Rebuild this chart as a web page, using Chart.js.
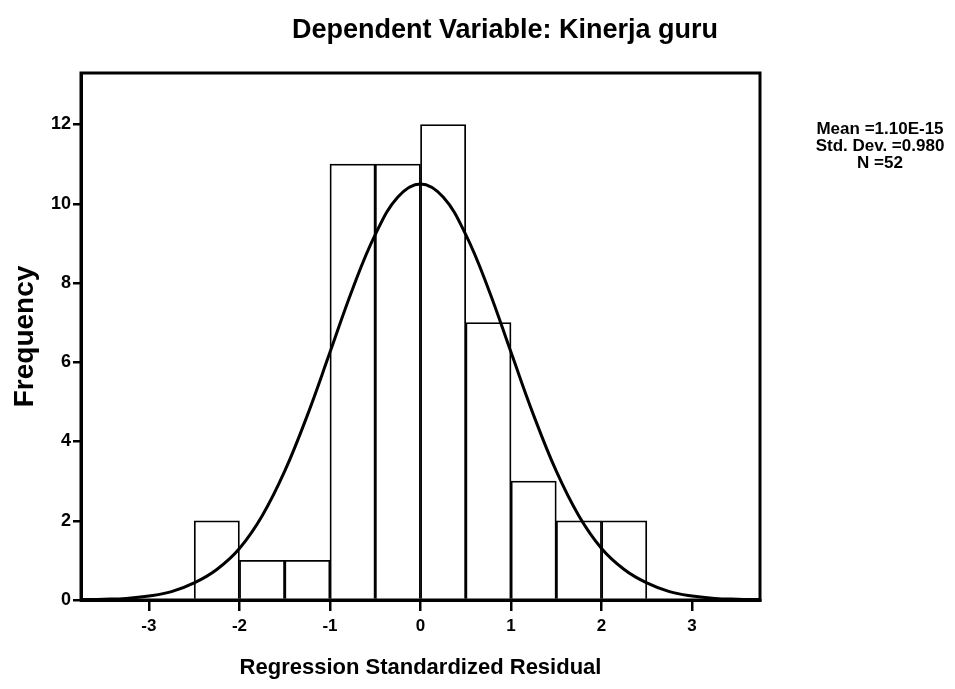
<!DOCTYPE html>
<html>
<head>
<meta charset="utf-8">
<script src="https://cdn.jsdelivr.net/npm/chart.js"></script>
<style>
    body { margin: 0; background: #fff; }
    canvas { display: block; }
</style>
</head>
<body>
<canvas id="histChart" width="955" height="689"></canvas>
<script>
// histogram bins (width 0.5) and counts
const binCenters = [-2.25, -1.75, -1.25, -0.75, -0.25, 0.25, 0.75, 1.25, 1.75, 2.25];
const frequencies = [2, 1, 1, 11, 11, 12, 7, 3, 2, 2];

// normal curve
const curveX = [-3.75, -3.5, -3.25, -3, -2.75, -2.5, -2.25, -2, -1.75, -1.5, -1.25, -1, -0.75, -0.5, -0.25,
    0, 0.25, 0.5, 0.75, 1, 1.25, 1.5, 1.75, 2, 2.25, 2.5, 2.75, 3, 3.25, 3.5, 3.75];
const curveY = [0.01, 0.02, 0.04, 0.10, 0.21, 0.43, 0.77, 1.30, 2.12, 3.25, 4.66, 6.25, 7.85, 9.22, 10.17,
    10.5, 10.17, 9.22, 7.85, 6.25, 4.66, 3.25, 2.12, 1.30, 0.77, 0.43, 0.21, 0.10, 0.04, 0.02, 0.01];

const xTicks = [-3, -2, -1, 0, 1, 2, 3];
const yTicks = [0, 2, 4, 6, 8, 10, 12];

const titleText = 'Dependent Variable: Kinerja guru';
const statLines = ['Mean =1.10E-15', 'Std. Dev. =0.980', 'N =52'];

const FONT = '"Liberation Sans", Arial, sans-serif';

const framePlugin = {
    id: 'frame',
    afterDraw(chart) {
        const ctx = chart.ctx;
        const a = chart.chartArea;
        ctx.save();
        ctx.strokeStyle = '#000';
        ctx.lineWidth = 3;
        ctx.strokeRect(a.left, a.top, a.right - a.left, a.bottom - a.top);

        ctx.fillStyle = '#000';
        ctx.textAlign = 'center';
        ctx.textBaseline = 'alphabetic';
        ctx.font = 'bold 27px ' + FONT;
        ctx.fillText(titleText, 505, 38);

        ctx.font = 'bold 17px ' + FONT;
        const baselines = [134, 151, 168];
        statLines.forEach((line, i) => ctx.fillText(line, 880, baselines[i]));
        ctx.restore();
    }
};

const ctx = document.getElementById('histChart').getContext('2d');

const histChart = new Chart(ctx, {
    type: 'line',
    data: {
        datasets: [{
            type: 'line',
            label: 'Normal',
            data: curveX.map((x, i) => ({ x: x, y: curveY[i] })),
            borderColor: '#000',
            borderWidth: 3,
            pointRadius: 0,
            tension: 0.4,
            fill: false,
            order: 0
        }, {
            type: 'bar',
            label: 'Frequency',
            data: binCenters.map((x, i) => ({ x: x, y: frequencies[i] })),
            backgroundColor: '#fff',
            borderColor: '#000',
            borderWidth: 1.8,
            barPercentage: 1,
            categoryPercentage: 1,
            order: 1
        }]
    },
    options: {
        responsive: false,
        animation: false,
        layout: {
            padding: { top: 73, right: 195, left: 0, bottom: 0 }
        },
        plugins: {
            legend: { display: false },
            tooltip: { enabled: false },
            title: { display: false }
        },
        scales: {
            x: {
                type: 'linear',
                min: -3.75,
                max: 3.75,
                offset: false,
                grid: {
                    drawOnChartArea: false,
                    offset: false,
                    color: '#000',
                    lineWidth: 2.5,
                    tickLength: 11
                },
                border: { display: true, color: '#000', width: 3 },
                ticks: {
                    color: '#000',
                    padding: 5,
                    font: { family: FONT, size: 17, weight: 'bold' }
                },
                afterBuildTicks: (scale) => {
                    scale.ticks = xTicks.map(v => ({ value: v }));
                },
                afterFit: (scale) => {
                    scale.height = 89;
                },
                title: {
                    display: true,
                    text: 'Regression Standardized Residual',
                    color: '#000',
                    padding: { top: 0, bottom: 8 },
                    font: { family: FONT, size: 22, weight: 'bold' }
                }
            },
            y: {
                min: 0,
                max: 13.3,
                grid: {
                    drawOnChartArea: false,
                    color: '#000',
                    lineWidth: 2.5,
                    tickLength: 8
                },
                border: { display: true, color: '#000', width: 3 },
                ticks: {
                    color: '#000',
                    padding: 2,
                    font: { family: FONT, size: 18, weight: 'bold' }
                },
                afterBuildTicks: (scale) => {
                    scale.ticks = yTicks.map(v => ({ value: v }));
                },
                afterFit: (scale) => {
                    scale.width = 81;
                },
                title: {
                    display: true,
                    text: 'Frequency',
                    color: '#000',
                    padding: { top: 8, bottom: 0 },
                    font: { family: FONT, size: 28, weight: 'bold' }
                }
            }
        }
    },
    plugins: [framePlugin]
});
</script>
</body>
</html>
